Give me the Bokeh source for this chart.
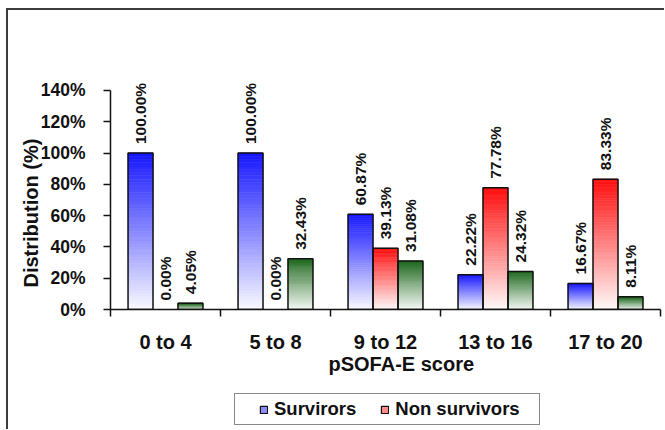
import numpy as np
from bokeh.plotting import figure
from bokeh.layouts import column
from bokeh.models import (ColumnDataSource, Range1d, FixedTicker, LinearAxis,
                          Legend, LegendItem, Title, PrintfTickFormatter)
from bokeh.embed import file_html
from bokeh.resources import INLINE
from bokeh.core.properties import value

# ---------------- data ----------------
categories = ["0 to 4", "5 to 8", "9 to 12", "13 to 16", "17 to 20"]
survivors = [100.00, 100.00, 60.87, 22.22, 16.67]
non_survivors = [0.00, 0.00, 39.13, 77.78, 83.33]
third_series = [4.05, 32.43, 31.08, 24.32, 8.11]
legend_names = ["Survirors", "Non survivors"]
y_ticks = [0, 20, 40, 60, 80, 100, 120, 140]
x_title = "pSOFA-E score"
y_title = "Distribution (%)"

series = [survivors, non_survivors, third_series]
top_colors = [(22, 22, 255), (255, 14, 14), (30, 104, 30)]
bottom_colors = [(250, 250, 255), (255, 250, 250), (247, 250, 247)]
legend_swatch = ["#8a8aff", "#ff8a8a"]

BAR_W = 0.227
NSLICE = 48
FONT = "Liberation Sans"
INK = "#111111"
W = 656
H1, H2 = 383, 36

p = figure(width=W, height=H1, output_backend="svg", toolbar_location=None,
           x_range=Range1d(0, 5), y_range=Range1d(0, 159.8),
           x_axis_location=None, y_axis_location=None,
           min_border_left=102, min_border_right=4,
           min_border_top=49, min_border_bottom=84)
p.xgrid.visible = False
p.ygrid.visible = False
p.outline_line_color = None
p.background_fill_color = "white"
p.border_fill_color = "white"

# ---------------- gradient bars ----------------
gl, gr, gb, gt, gc = [], [], [], [], []
ol, orr, ob, ot = [], [], [], []
lx, ly, lt = [], [], []
for j, vals in enumerate(series):
    tc = np.array(top_colors[j], float)
    bc = np.array(bottom_colors[j], float)
    for i, v in enumerate(vals):
        cx = i + 0.5 + (j - 1) * BAR_W
        left, right = cx - BAR_W / 2, cx + BAR_W / 2
        if v > 0:
            for k in range(NSLICE):
                t = (k + 0.5) / NSLICE
                c = bc + (tc - bc) * t
                gl.append(left); gr.append(right)
                gb.append(v * k / NSLICE); gt.append(v * (k + 1) / NSLICE)
                gc.append("#%02x%02x%02x" % tuple(int(round(z)) for z in c))
            ol.append(left); orr.append(right); ob.append(0); ot.append(v)
        lx.append(cx); ly.append(v); lt.append("%.2f%%" % v)

p.quad(left="l", right="r", bottom="b", top="t", fill_color="c", line_color="c",
       line_width=0.6, source=ColumnDataSource(dict(l=gl, r=gr, b=gb, t=gt, c=gc)))
p.quad(left="l", right="r", bottom="b", top="t", fill_color=None, line_color=INK,
       line_width=1.5, source=ColumnDataSource(dict(l=ol, r=orr, b=ob, t=ot)))

p.text(x="x", y="y", text="s", source=ColumnDataSource(dict(x=lx, y=ly, s=lt)),
       angle=np.pi / 2, text_align="left", text_baseline="middle", y_offset=-9,
       text_font=value(FONT), text_font_style="bold",
       text_font_size="15.5px", text_color=INK)

# ---------------- axes ----------------
yaxis = LinearAxis(ticker=FixedTicker(ticks=y_ticks),
                   formatter=PrintfTickFormatter(format="%d%%"), bounds=(0, 140))
yaxis.major_tick_out = 7
yaxis.major_tick_in = 0
yaxis.minor_tick_line_color = None
yaxis.axis_line_width = 1.5
yaxis.major_tick_line_width = 1.5
yaxis.axis_line_color = INK
yaxis.major_tick_line_color = INK
yaxis.major_label_text_font = FONT
yaxis.major_label_text_font_size = "17.5px"
yaxis.major_label_text_font_style = "bold"
yaxis.major_label_text_color = INK
yaxis.major_label_standoff = 18
p.add_layout(yaxis, "left")

xaxis = LinearAxis(ticker=FixedTicker(ticks=[i + 0.5 for i in range(len(categories))],
                                      minor_ticks=list(range(len(categories) + 1))),
                   major_label_overrides={i + 0.5: c for i, c in enumerate(categories)})
xaxis.major_tick_out = 0
xaxis.major_tick_in = 0
xaxis.major_tick_line_color = None
xaxis.minor_tick_out = 7
xaxis.minor_tick_in = 0
xaxis.minor_tick_line_color = INK
xaxis.minor_tick_line_width = 1.5
xaxis.axis_line_width = 1.5
xaxis.axis_line_color = INK
xaxis.major_label_text_font = FONT
xaxis.major_label_text_font_size = "20px"
xaxis.major_label_text_font_style = "bold"
xaxis.major_label_text_color = INK
xaxis.major_label_standoff = 14
p.add_layout(xaxis, "below")

# ---------------- titles ----------------
p.add_layout(Title(text=x_title, align="left", offset=218, standoff=-9,
                   text_font=FONT, text_font_size="20px", text_font_style="bold",
                   text_color=INK), "below")
p.add_layout(Title(text=y_title, align="left", offset=22, standoff=-9,
                   text_font=FONT, text_font_size="20px", text_font_style="bold",
                   text_color=INK), "left")

# ---------------- legend (own strip below the chart) ----------------
p2 = figure(width=W, height=H2, output_backend="svg", toolbar_location=None,
            x_range=Range1d(0, 5), y_range=Range1d(0, 160),
            x_axis_location=None, y_axis_location=None,
            min_border=0, min_border_left=0, min_border_right=0,
            min_border_top=0, min_border_bottom=0)
p2.xgrid.visible = False
p2.ygrid.visible = False
p2.outline_line_color = None
p2.background_fill_color = "white"
p2.border_fill_color = "white"

items = []
xs = [i + 0.5 for i in range(len(categories))]
for name, col, vals in zip(legend_names, legend_swatch, series[:2]):
    r = p2.vbar(x=xs, top=vals, width=BAR_W, fill_color=col, line_color=INK,
                line_width=1.2, visible=False)
    items.append(LegendItem(label=name, renderers=[r], index=0))
legend = Legend(items=items, location=(124, 4), orientation="horizontal",
                glyph_width=9, glyph_height=9, label_standoff=6, spacing=24, margin=0,
                label_height=20,
                border_line_color=INK, border_line_width=1.5,
                label_text_font=FONT, label_text_font_size="18.5px",
                label_text_font_style="bold", label_text_color=INK,
                background_fill_color="white", background_fill_alpha=1.0,
                inactive_fill_alpha=0.0)
try:
    legend.padding = (24, 19, 4, 4)
except Exception:
    legend.padding = 5
p2.add_layout(legend, "center")

page = column(p, p2, spacing=0,
              styles={"margin-left": "6px", "margin-top": "8px",
                      "border-left": "2px solid #3c3c3c",
                      "border-top": "2px solid #3c3c3c"})

open("out.html", "w").write(file_html(page, INLINE))
